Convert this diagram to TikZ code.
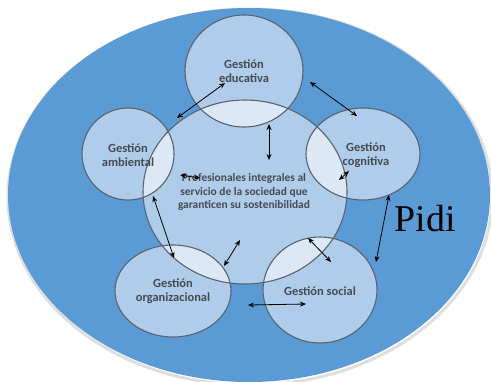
\documentclass[tikz,border=0pt]{standalone}
\usepackage{fontspec}
\setmainfont{Carlito}
\newfontfamily\pidifont{Liberation Serif}
\usetikzlibrary{arrows.meta}
\definecolor{bigblue}{HTML}{5B9BD5}
\definecolor{circblue}{HTML}{AFCCEA}
\definecolor{lapblue}{HTML}{DCE8F5}
\definecolor{edgegray}{HTML}{59636E}
\definecolor{txtgray}{HTML}{464B52}
\tikzset{
  circfill/.style={fill=circblue},
  circedge/.style={draw=edgegray, line width=1.1bp},
  lbl/.style={align=center, text=txtgray, font=\bfseries\fontsize{12.5}{14.5}\selectfont, inner sep=0pt},
  biarrow/.style={{Stealth[length=6bp,width=5bp]}-{Stealth[length=6bp,width=5bp]}, line width=0.8bp, black},
}
\begin{document}
\begin{tikzpicture}[x=1bp,y=-1bp]
\useasboundingbox (0,0) rectangle (491,381);
\fill[white] (0,0) rectangle (491,381);
\begin{scope}
\clip (0,0) rectangle (491,381);
\draw[gray!25, line width=3bp] (250,197) ellipse [x radius=242, y radius=188];
\fill[bigblue] (249,195) ellipse [x radius=241, y radius=187];
\end{scope}
% circle shapes
\def\cCen{(245,192) ellipse [x radius=102, y radius=92]}
\def\cEdu{(244,71) ellipse [x radius=59, y radius=56]}
\def\cAmb{(128,154) ellipse [x radius=46, y radius=46]}
\def\cCog{(363,154) ellipse [x radius=57, y radius=46]}
\def\cOrg{(173,291) ellipse [x radius=58, y radius=46]}
\def\cSoc{(320,290) ellipse [x radius=57, y radius=53]}
\foreach \c in {\cCen,\cEdu,\cAmb,\cCog,\cOrg,\cSoc}{\fill[circfill] \c;}
% overlaps
\foreach \c in {\cEdu,\cAmb,\cCog,\cOrg,\cSoc}{
  \begin{scope}
    \clip \cCen;
    \fill[lapblue] \c;
  \end{scope}
}
\foreach \c in {\cCen,\cEdu,\cAmb,\cCog,\cOrg,\cSoc}{\draw[circedge] \c;}
% labels
\node[lbl] (edu) at (244,71) {Gestión\\educativa};
\node[lbl] (amb) at (128,155) {Gestión\\ambiental};
\node[lbl] (cog) at (366,155) {Gestión\\cognitiva};
\node[lbl] (org) at (173,291) {Gestión\\organizacional};
\node[lbl] (soc) at (320,291) {Gestión social};
\node[lbl, font=\bfseries\fontsize{11.5}{13.5}\selectfont] (cen) at (244,192) {Profesionales integrales al\\servicio de la sociedad que\\garanticen su sostenibilidad};
\node[font=\pidifont\fontsize{38}{40}\selectfont, inner sep=0pt, anchor=base] (pidi) at (425,231) {Pidi};
% arrow ends
\coordinate (a1) at (225,83);  \coordinate (b1) at (177,118);
\coordinate (a2) at (310,82);  \coordinate (b2) at (357,116);
\coordinate (a3) at (269,124); \coordinate (b3) at (269,160);
\coordinate (a4) at (180,175); \coordinate (b4) at (200,178);
\coordinate (a5) at (349,171); \coordinate (b5) at (339,180);
\coordinate (a6) at (389,195); \coordinate (b6) at (376,262);
\coordinate (a7) at (153,196); \coordinate (b7) at (174,258);
\coordinate (a8) at (240,240); \coordinate (b8) at (224,266);
\coordinate (a9) at (308,238); \coordinate (b9) at (331,262);
\coordinate (a10) at (248,305); \coordinate (b10) at (306,304);
\foreach \i in {1,...,10}{\draw[biarrow] (a\i) -- (b\i);}
\end{tikzpicture}
\end{document}
